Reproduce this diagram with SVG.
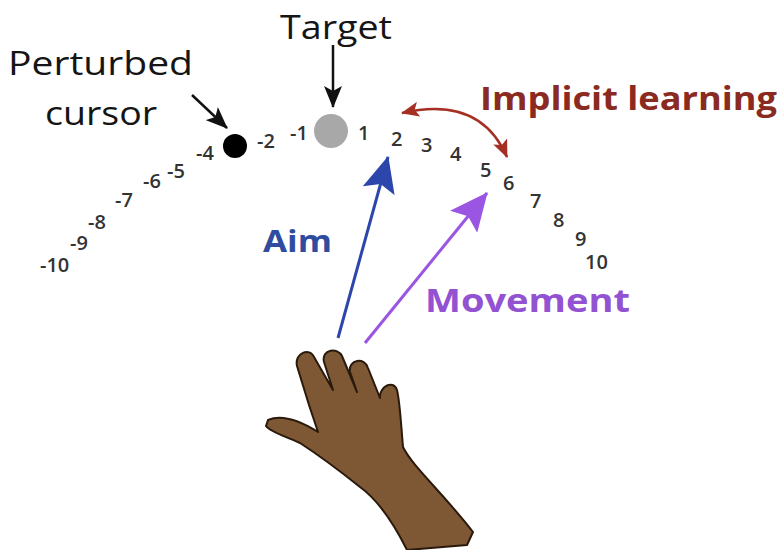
<svg xmlns="http://www.w3.org/2000/svg" width="780" height="550" viewBox="0 0 780 550">
  <style>
    text { font-family: "Open Sans", "Liberation Sans", sans-serif; }
    .label { font-size: 32px; fill: #151515; }
    .num { font-size: 20px; fill: #333333; font-weight: 600; }
    .impl { font-size: 33px; font-weight: bold; fill: #8a2a20; }
    .aim { font-size: 31px; font-weight: bold; fill: #2f4c9e; }
    .move { font-size: 32px; font-weight: bold; fill: #9352d2; }
    .conn { fill: none; }
  </style>
  <defs>
    <marker id="headBlack" viewBox="0 0 22 18" refX="21" refY="9" markerWidth="22" markerHeight="18" markerUnits="userSpaceOnUse" orient="auto">
      <path d="M0,0 L22,9 L0,18 L5,9 Z" fill="#111"/>
    </marker>
    <marker id="headRed" viewBox="0 0 18 15" refX="17" refY="7.5" markerWidth="18" markerHeight="15" markerUnits="userSpaceOnUse" orient="auto-start-reverse">
      <path d="M0,0 L18,7.5 L0,15 L4,7.5 Z" fill="#a52f22"/>
    </marker>
    <marker id="headBlue" viewBox="0 0 36 33" refX="35" refY="16.5" markerWidth="36" markerHeight="33" markerUnits="userSpaceOnUse" orient="auto">
      <path d="M0,0 L36,16.5 L0,33 L7,16.5 Z" fill="#2c46ab"/>
    </marker>
    <marker id="headPurple" viewBox="0 0 38 35" refX="37" refY="17.5" markerWidth="38" markerHeight="35" markerUnits="userSpaceOnUse" orient="auto">
      <path d="M0,0 L38,17.5 L0,35 L7,17.5 Z" fill="#9a55e2"/>
    </marker>
  </defs>

  <rect width="780" height="550" fill="#ffffff"/>

  <!-- hand -->
  <g id="hand">
    <path d="M268,420 C282,414 302,422 318,432 L309,405 L297,366 C294,353 310,347 314,357 L333,390 L324,362 C321,349 338,347 342,356 L357,392 L350,372 C348,359 365,357 368,368 L380,398 C379,387 393,379 397,390 C400,402 401,425 403,447 C412,466 442,492 473,532 L467,545 L407,550 C395,526 378,500 360,487 C340,471 320,456 300,443 C285,436 270,432 266,426 Z" fill="#7e5734" stroke="#2a1a0c" stroke-width="2" stroke-linejoin="round"/>
  </g>

  <!-- positions on the arc -->
  <g id="cursor-dot"><circle cx="235" cy="146" r="12" fill="#000"/></g>
  <g id="target-dot"><circle cx="331" cy="131" r="17" fill="#a8a8a8"/></g>

  <g id="scale">
    <text class="num" x="40" y="272">-10</text>
    <text class="num" x="70" y="250">-9</text>
    <text class="num" x="88" y="229">-8</text>
    <text class="num" x="115" y="207">-7</text>
    <text class="num" x="143" y="188">-6</text>
    <text class="num" x="167" y="178">-5</text>
    <text class="num" x="196" y="160">-4</text>
    <text class="num" x="257" y="148">-2</text>
    <text class="num" x="290" y="140">-1</text>
    <text class="num" x="358" y="140">1</text>
    <text class="num" x="391" y="146">2</text>
    <text class="num" x="421" y="152">3</text>
    <text class="num" x="450" y="161">4</text>
    <text class="num" x="480" y="177">5</text>
    <text class="num" x="503" y="190">6</text>
    <text class="num" x="530" y="208">7</text>
    <text class="num" x="553" y="227">8</text>
    <text class="num" x="575" y="246">9</text>
    <text class="num" x="585" y="269">10</text>
  </g>

  <!-- labels -->
  <g id="perturbed-label">
    <text class="label" x="8" y="75" textLength="185" lengthAdjust="spacingAndGlyphs">Perturbed</text>
    <text class="label" x="45" y="125" textLength="112" lengthAdjust="spacingAndGlyphs">cursor</text>
  </g>
  <g id="target-label">
    <text class="label" x="280" y="39" textLength="112" lengthAdjust="spacingAndGlyphs">Target</text>
  </g>
  <g id="implicit-label">
    <text class="impl" x="480" y="110" textLength="297" lengthAdjust="spacingAndGlyphs">Implicit learning</text>
  </g>
  <g id="aim-label">
    <text class="aim" x="263" y="252" textLength="69" lengthAdjust="spacingAndGlyphs">Aim</text>
  </g>
  <g id="movement-label">
    <text class="move" x="425" y="312" textLength="205" lengthAdjust="spacingAndGlyphs">Movement</text>
  </g>

  <!-- connectors -->
  <g id="connectors" class="conn">
    <line x1="333" y1="45" x2="333" y2="107" stroke="#111" stroke-width="2.5" marker-end="url(#headBlack)"/>
    <line x1="192" y1="95" x2="227" y2="128" stroke="#111" stroke-width="2.5" marker-end="url(#headBlack)"/>
    <path d="M402,113 Q480,95 507,157" stroke="#a52f22" stroke-width="2.5" fill="none" marker-start="url(#headRed)" marker-end="url(#headRed)"/>
    <line x1="338" y1="338" x2="388" y2="157" stroke="#2c46ab" stroke-width="3" marker-end="url(#headBlue)"/>
    <line x1="365" y1="343" x2="487" y2="193" stroke="#9a55e2" stroke-width="3" marker-end="url(#headPurple)"/>
  </g>
</svg>
